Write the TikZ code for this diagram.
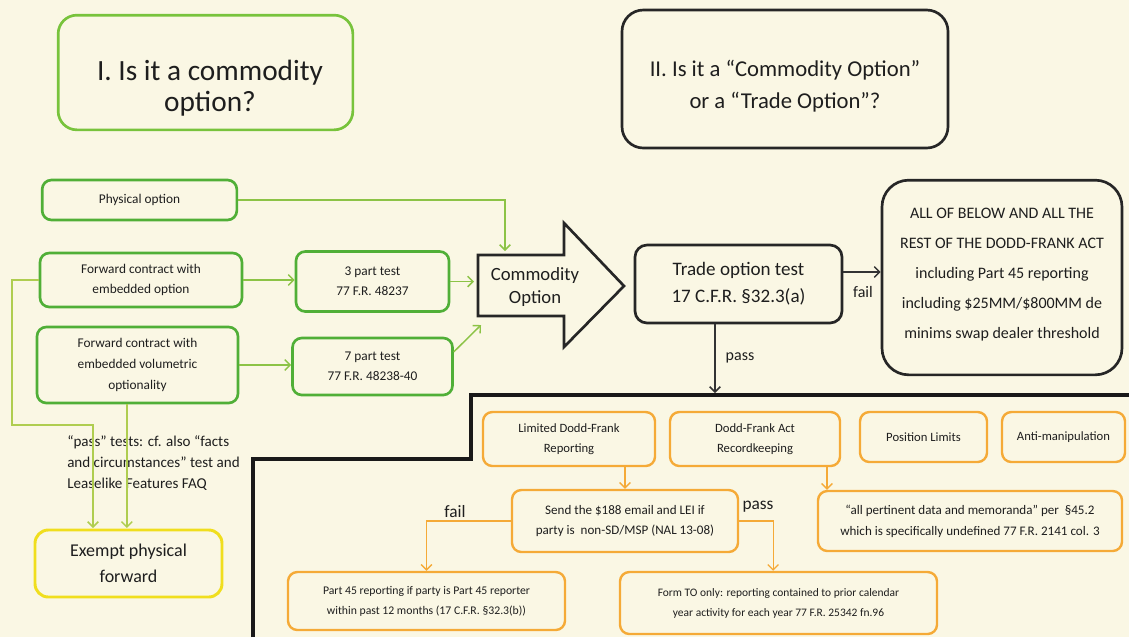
\documentclass[tikz,border=0pt]{standalone}
\usepackage{fontspec}
\setmainfont{Carlito}
\usetikzlibrary{arrows.meta}
\definecolor{paper}{RGB}{250,247,228}
\definecolor{txt}{RGB}{30,30,30}
\definecolor{gr}{RGB}{80,175,55}
\definecolor{grt}{RGB}{120,195,60}
\definecolor{grl}{RGB}{140,195,70}
\definecolor{grl2}{RGB}{175,205,80}
\definecolor{org}{RGB}{245,170,55}
\definecolor{ylw}{RGB}{240,222,30}
\tikzset{
  box/.style={draw, rounded corners=7pt, align=center, inner sep=2pt, text=txt},
  gbox/.style={box, draw=gr, line width=2pt},
  obox/.style={box, draw=org, line width=1.8pt},
  kbox/.style={box, draw=black!85, line width=2pt},
  tlabel/.style={text=txt, align=center},
  gline/.style={draw=grl, line width=1.1pt, -{Straight Barb[length=4pt,width=8pt]}},
  gline2/.style={draw=grl2, line width=1.1pt, -{Straight Barb[length=4pt,width=8pt]}},
  oline/.style={draw=org, line width=1pt, -{Straight Barb[length=4pt,width=8pt]}},
  kline/.style={draw=black!80, line width=1.1pt, -{Straight Barb[length=4pt,width=8pt]}},
  small/.style={font=\fontsize{10}{15}\selectfont},
  osmall/.style={font=\fontsize{9.5}{15}\selectfont},
}
\begin{document}
\begin{tikzpicture}[x=0.75pt,y=-0.75pt]
\fill[paper] (0,0) rectangle (1129,637);
\useasboundingbox (0,0) rectangle (1129,637);

% titles
\node[gbox, draw=grt, rounded corners=14pt, minimum width=221pt, minimum height=86pt] (t1) at (205.5,72.5) {};
\node[tlabel, font=\fontsize{22}{23.5}\selectfont] (t1txt) at (210,88) {I. Is it a commodity\\option?};
\node[kbox, rounded corners=16pt, minimum width=244.5pt, minimum height=103.5pt] (t2) at (785,79) {};
\node[tlabel, font=\fontsize{17}{24}\selectfont] (t2txt) at (785,86) {II. Is it a “Commodity Option”\\or a “Trade Option”?};

% left column
\node[gbox, small, minimum width=146pt, minimum height=30pt] (phys) at (139.5,200) {Physical option};
\node[gbox, small, minimum width=151.5pt, minimum height=40.5pt] (fwd1) at (141,280) {Forward contract with\\embedded option};
\node[gbox, font=\fontsize{10}{16}\selectfont, minimum width=150.75pt, minimum height=57pt] (fwd2) at (137.5,365) {Forward contract with\\embedded volumetric\\optionality};
\node[gbox, small, minimum width=114.75pt, minimum height=45pt] (t3) at (372.5,281.5) {3 part test\\77 F.R. 48237};
\node[gbox, small, minimum width=120pt, minimum height=42.75pt] (t7) at (372.5,366.5) {7 part test\\77 F.R. 48238-40};

% commodity option arrow
\draw[black!85, line width=2pt, line join=miter] (478,255) -- (564,255) -- (564,223) -- (624,286) -- (564,347) -- (564,316) -- (478,316) -- cycle;
\node[tlabel, font=\fontsize{14}{17.5}\selectfont] (ca) at (535,287) {Commodity\\Option};
\coordinate (caTop) at (505,251);
\coordinate (caL) at (474,281.5);
\coordinate (caLL) at (481,325);

% trade option test
\node[kbox, rounded corners=9pt, font=\fontsize{14.3}{20.5}\selectfont, minimum width=155.25pt, minimum height=58.5pt] (trade) at (738.5,284) {Trade option test\\17 C.F.R. §32.3(a)};
\node[kbox, rounded corners=20pt, minimum width=180pt, minimum height=146pt] (all) at (1002,277.5) {};
\node[tlabel, font=\fontsize{12}{22.5}\selectfont] (alltxt) at (1002,274.5) {ALL OF BELOW AND ALL THE\\REST OF THE DODD-FRANK ACT\\including Part 45 reporting\\including \$25MM/\$800MM de\\minims swap dealer threshold};

% black boundary
\draw[black!90, line width=3pt] (253,637) -- (253,459) -- (471,459) -- (471,395) -- (1129,395);
\coordinate (passEnd) at (715,393);

% orange boxes
\node[obox, osmall, minimum width=129pt, minimum height=40.5pt] (lim) at (569,439) {Limited Dodd-Frank\\Reporting};
\node[obox, osmall, minimum width=127.5pt, minimum height=40.5pt] (dfa) at (755,439) {Dodd-Frank Act\\Recordkeeping};
\node[obox, osmall, minimum width=95.25pt, minimum height=37.5pt] (pos) at (923.5,437) {Position Limits};
\node[obox, osmall, minimum width=92.25pt, minimum height=37.5pt] (anti) at (1063.5,437) {Anti-manipulation};
\node[obox, font=\fontsize{9.8}{15}\selectfont, minimum width=169.5pt, minimum height=46.5pt] (send) at (625,521) {Send the \$188 email and LEI if\\party is\ \ non-SD/MSP (NAL 13-08)};
\node[obox, font=\fontsize{9.8}{16}\selectfont, minimum width=228pt, minimum height=45pt] (allp) at (970,521) {“all pertinent data and memoranda” per\ \ §45.2\\which is specifically undefined 77 F.R. 2141 col. 3};
\node[obox, font=\fontsize{8.8}{15}\selectfont, minimum width=207.75pt, minimum height=43.5pt] (p45) at (426.5,601) {Part 45 reporting if party is Part 45 reporter\\within past 12 months (17 C.F.R. §32.3(b))};
\node[obox, font=\fontsize{8.6}{15}\selectfont, minimum width=237.75pt, minimum height=46.5pt] (formto) at (778.5,603) {Form TO only: reporting contained to prior calendar\\year activity for each year 77 F.R. 25342 fn.96};

% exempt
\node[box, draw=ylw, line width=2.2pt, rounded corners=10pt, font=\fontsize{13.5}{19.5}\selectfont, minimum width=140.25pt, minimum height=50.25pt] (exempt) at (128.5,563.5) {Exempt physical\\forward};
\coordinate (ex1) at (93,528);
\node[text=txt, align=left, anchor=west, inner sep=0pt, font=\fontsize{11.3}{16}\selectfont] (passnote) at (67,463) {“pass” tests: cf. also “facts\\and circumstances” test and\\Leaselike Features FAQ};

% green connectors
\draw[gline] (phys.east) -| (caTop);
\draw[gline] (fwd1.east) -- (fwd1.east -| t3.west);
\draw[gline] (t3.east) -- (caL);
\draw[gline] (fwd2.east) -- (fwd2.east -| t7.west);
\draw[gline] ([yshift=11pt]t7.east) -- (caLL);
\draw[gline2] (fwd1.west) -| (12,425) -| (ex1);
\draw[gline2] ([xshift=-8pt]fwd2.south) -- ([xshift=-8pt]fwd2.south |- ex1);

% black connectors
\draw[kline] ([yshift=9pt]trade.east) -- ([yshift=9pt]trade.east -| all.west);
\node[tlabel, font=\fontsize{12}{13}\selectfont] (faillbl) at (863,292) {fail};
\draw[kline] (trade.south -| passEnd) -- (passEnd);
\node[tlabel, font=\fontsize{12}{13}\selectfont] (passlbl) at (740,358) {pass};

% orange connectors
\draw[oline] (lim.south -| send.north) -- (send.north);
\draw[oline] ([xshift=54pt]dfa.south) -- ([xshift=54pt]dfa.south |- allp.north);
\draw[oline] (send.west) -| (p45.north);
\node[tlabel, font=\fontsize{13}{14}\selectfont] (fail2) at (455,512) {fail};
\draw[oline] (send.east) -| ([xshift=-4pt]formto.north);
\node[tlabel, font=\fontsize{13}{14}\selectfont] (pass2) at (758,507) {pass};
\end{tikzpicture}
\end{document}
